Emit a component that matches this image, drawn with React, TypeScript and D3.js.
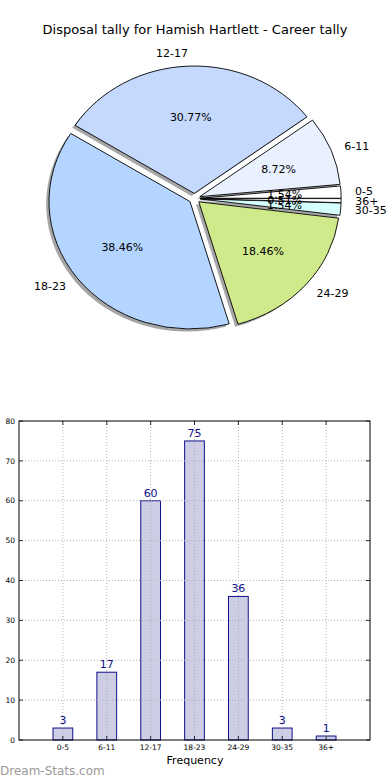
import React from "react";
import * as d3 from "d3";

const categories = ["0-5", "6-11", "12-17", "18-23", "24-29", "30-35", "36+"];
const values = [3, 17, 60, 75, 36, 3, 1];
const pieColors = ["#ffffff", "#e9f1ff", "#c5d9fe", "#b4d5ff", "#cfea8b", "#d5fefe", "#ffffff"];
const yTicks = [0, 10, 20, 30, 40, 50, 60, 70, 80];
const title = "Disposal tally for Hamish Hartlett - Career tally";

const W = 390, H = 780;
const FONT = "DejaVu Sans, Bitstream Vera Sans, sans-serif";

// pie geometry (elliptical, like an unequal-aspect matplotlib pie)
const cx = 194.5, cy = 198.5, rx = 141, ry = 127.4;
const explode = 0.04;

function wedgePath(ox: number, oy: number, a0: number, a1: number) {
  const x0 = ox + rx * Math.cos(a0), y0 = oy - ry * Math.sin(a0);
  const x1 = ox + rx * Math.cos(a1), y1 = oy - ry * Math.sin(a1);
  const large = a1 - a0 > Math.PI ? 1 : 0;
  return `M${ox},${oy}L${x0},${y0}A${rx},${ry} 0 ${large} 0 ${x1},${y1}Z`;
}

export default function App() {
  const arcs = d3.pie<number>().sort(null).startAngle(0).endAngle(2 * Math.PI)(values);
  const total = d3.sum(values);

  const wedges = arcs.map((a, i) => {
    const mid = (a.startAngle + a.endAngle) / 2;
    const ox = cx + explode * rx * Math.cos(mid);
    const oy = cy - explode * ry * Math.sin(mid);
    return { i, a0: a.startAngle, a1: a.endAngle, mid, ox, oy };
  });

  // bar chart
  const left = 19, right = 370, top = 421, bottom = 740;
  const x = d3.scaleLinear().domain([0, 8]).range([left, right]);
  const y = d3.scaleLinear().domain([0, 80]).range([bottom, top]);
  const bw = 0.45;
  const navy = "#10108a";

  return (
    <svg width={W} height={H} style={{ position: "absolute", left: 0, top: 0, background: "#fff" }} fontFamily={FONT}>
      <text x={195} y={34} textAnchor="middle" fontSize={13} fill="#000">{title}</text>

      {/* shadows */}
      {wedges.map((w) => (
        <path key={"s" + w.i} d={wedgePath(w.ox - 0.02 * rx, w.oy + 0.02 * ry, w.a0, w.a1)} fill="#4d4d4d" fillOpacity={0.5} stroke="none" />
      ))}
      {wedges.map((w) => (
        <path key={"w" + w.i} d={wedgePath(w.ox, w.oy, w.a0, w.a1)} fill={pieColors[w.i]} stroke="#000" strokeWidth={0.9} strokeLinejoin="round" />
      ))}
      {wedges.map((w) => {
        const lx = w.ox + 1.1 * rx * Math.cos(w.mid);
        const ly = w.oy - 1.1 * ry * Math.sin(w.mid);
        const anchor = Math.cos(w.mid) >= 0 ? "start" : "end";
        return (
          <text key={"l" + w.i} x={lx} y={ly} dy="0.35em" textAnchor={anchor} fontSize={11} fill="#000">{categories[w.i]}</text>
        );
      })}
      {wedges.map((w) => {
        const px = w.ox + 0.6 * rx * Math.cos(w.mid);
        const py = w.oy - 0.6 * ry * Math.sin(w.mid);
        return (
          <text key={"p" + w.i} x={px} y={py} dy="0.35em" textAnchor="middle" fontSize={11} fill="#000">
            {((values[w.i] / total) * 100).toFixed(2) + "%"}
          </text>
        );
      })}

      {/* bars */}
      {values.map((v, i) => (
        <rect key={"b" + i} x={x(i + 1 - bw / 2)} y={y(v)} width={x(bw) - x(0)} height={y(0) - y(v)} fill="#cdcde5" stroke={navy} strokeWidth={1} />
      ))}
      {/* grid */}
      {yTicks.slice(1, -1).map((t) => (
        <line key={"gy" + t} x1={left} x2={right} y1={y(t)} y2={y(t)} stroke="#b0b0b0" strokeWidth={1} strokeDasharray="1,2" />
      ))}
      {categories.map((c, i) => (
        <line key={"gx" + i} x1={x(i + 1)} x2={x(i + 1)} y1={top} y2={bottom} stroke="#b0b0b0" strokeWidth={1} strokeDasharray="1,2" />
      ))}
      {/* ticks */}
      {yTicks.map((t) => (
        <g key={"ty" + t}>
          <line x1={left} x2={left + 4} y1={y(t)} y2={y(t)} stroke="#000" strokeWidth={0.8} />
          <line x1={right - 4} x2={right} y1={y(t)} y2={y(t)} stroke="#000" strokeWidth={0.8} />
          <text x={left - 4} y={y(t)} dy="0.35em" textAnchor="end" fontSize={7.5} fill="#000">{t}</text>
        </g>
      ))}
      {categories.map((c, i) => (
        <g key={"tx" + i}>
          <line x1={x(i + 1)} x2={x(i + 1)} y1={bottom} y2={bottom - 4} stroke="#000" strokeWidth={0.8} />
          <line x1={x(i + 1)} x2={x(i + 1)} y1={top} y2={top + 4} stroke="#000" strokeWidth={0.8} />
          <text x={x(i + 1)} y={bottom + 10} textAnchor="middle" fontSize={7.5} fill="#000">{c}</text>
        </g>
      ))}
      <rect x={left} y={top} width={right - left} height={bottom - top} fill="none" stroke="#000" strokeWidth={1} />
      {values.map((v, i) => (
        <text key={"v" + i} x={x(i + 1)} y={y(v) - 4} textAnchor="middle" fontSize={11} fill={navy}>{v}</text>
      ))}
      <text x={195} y={764} textAnchor="middle" fontSize={11} fill="#000">Frequency</text>
      <text x={0} y={775} fontSize={12} fill="#9a9a9a">Dream-Stats.com</text>
    </svg>
  );
}
